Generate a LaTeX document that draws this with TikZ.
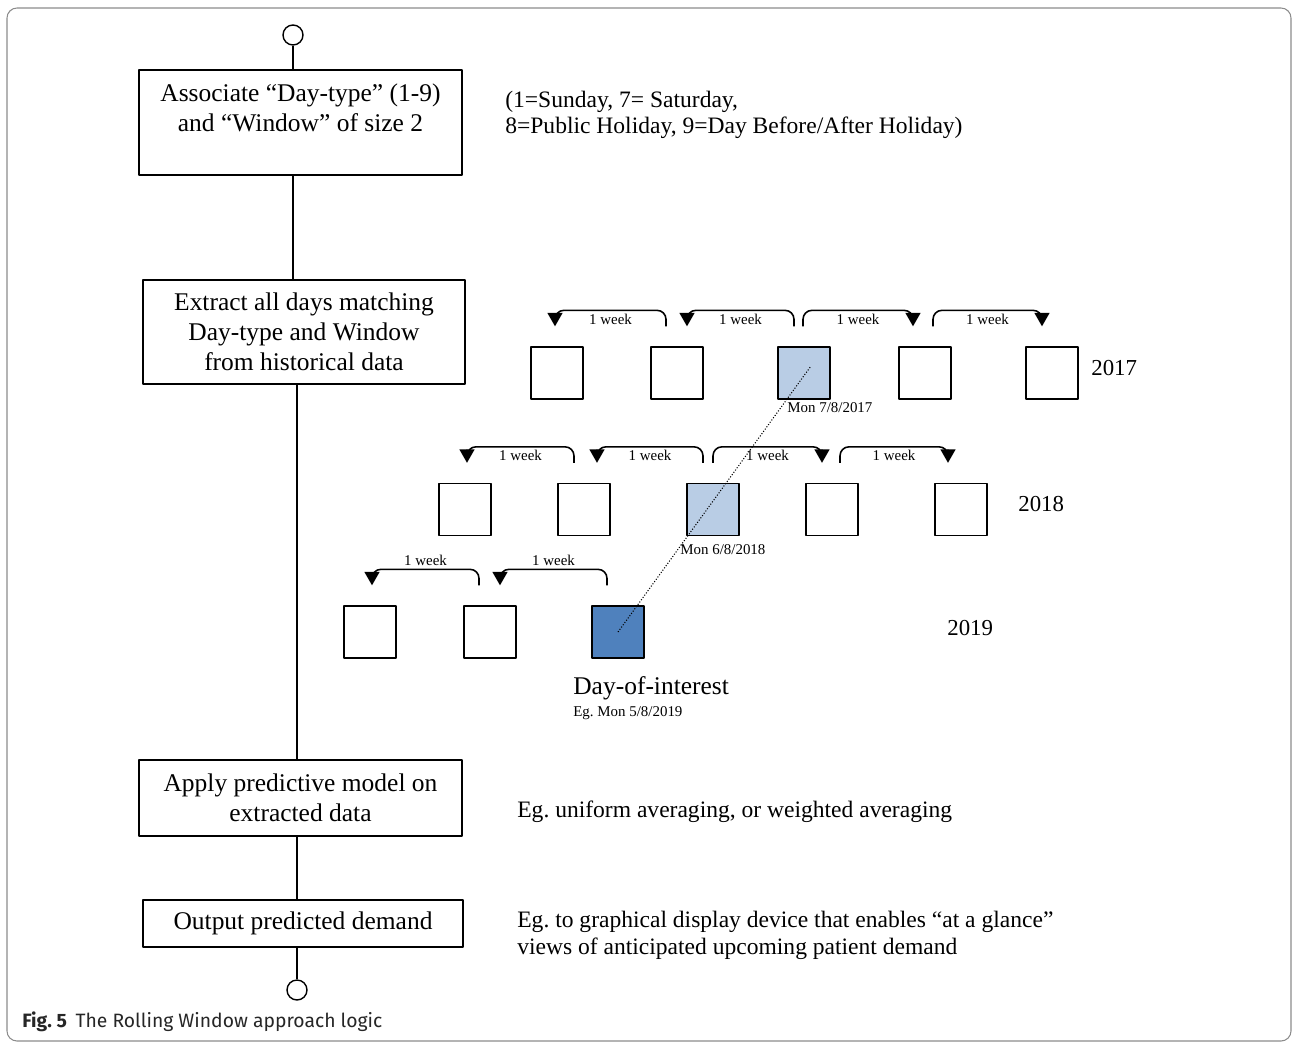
\documentclass[tikz,border=0pt]{standalone}
\usepackage{fontspec}
\setmainfont{Liberation Serif}
\newfontfamily\capfont{Fira Sans}
\usepackage{tikz}
\usetikzlibrary{positioning,calc,arrows.meta}
\frenchspacing

\definecolor{lightday}{HTML}{B9CDE5}
\definecolor{darkday}{HTML}{4F81BD}
\definecolor{framegray}{HTML}{8C8C8C}

\tikzset{
    stepbox/.style={draw, line width=0.8pt, align=center, inner sep=2pt,
        font=\fontsize{14.5}{17}\selectfont},
    term/.style={draw, circle, line width=0.8pt, minimum size=0.4cm, inner sep=0pt},
    daybox/.style={draw, line width=0.8pt, minimum size=1.04cm, inner sep=0pt},
    wk/.style={line width=0.9pt, rounded corners=0.18cm,
        -{Triangle[width=0.3cm,length=0.27cm]}},
    wklabel/.style={font=\fontsize{8.5}{10}\selectfont, inner sep=1.5pt},
    note/.style={anchor=west, align=left, inner sep=0pt},
    year/.style={anchor=west, inner sep=0pt, font=\fontsize{13}{15}\selectfont}
}

\begin{document}
\begin{tikzpicture}[x=0.02cm, y=-0.02cm, line join=round]
    \useasboundingbox (0,0) rectangle (1292,1042);
    \draw[framegray, line width=0.6pt, rounded corners=0.2cm] (7,8) rectangle (1291,1041);

    % Flow chart on the left
    \node [term] (start) at (293,35) {};
    \node [stepbox, minimum width=6.46cm, minimum height=2.1cm] (b1) at (300.5,122.5)
        {Associate “Day-type” (1-9)\\ and “Window” of size 2\\ \mbox{}};
    \node [stepbox, minimum width=6.44cm, minimum height=2.08cm] (b2) at (304,332)
        {Extract all days matching\\ Day-type and Window\\ from historical data};
    \node [stepbox, minimum width=6.46cm, minimum height=1.52cm] (b3) at (300.5,798)
        {Apply predictive model on\\ extracted data};
    \node [stepbox, minimum width=6.4cm, minimum height=0.94cm] (b4) at (303,923.5)
        {Output predicted demand};
    \node [term] (stop) at (297,990) {};

    \draw [line width=0.8pt] (start.south) -- (start.south |- b1.north);
    \draw [line width=0.8pt] (b1.south -| start) -- (b2.north -| start);
    \draw [line width=0.8pt] (b2.south -| stop) -- (b3.north -| stop);
    \draw [line width=0.8pt] (b3.south -| stop) -- (b4.north -| stop);
    \draw [line width=0.8pt] (b4.south -| stop) -- (stop.north);

    % Notes on the right
    \node [note, font=\fontsize{13.4}{14.7}\selectfont] (n1) at (505,115)
        {(1=Sunday, 7= Saturday,\\ 8=Public Holiday, 9=Day Before/After Holiday)};
    \node [note, font=\fontsize{13.4}{16}\selectfont] (n3) at (517,812)
        {Eg. uniform averaging, or weighted averaging};
    \node [note, font=\fontsize{13.4}{15.3}\selectfont] (n4) at (517,935.5)
        {Eg. to graphical display device that enables “at a glance”\\ views of anticipated upcoming patient demand};

    % Days of each year
    \foreach \n/\x/\c in {1/557/white, 2/677/white, 3/804/lightday, 4/925/white, 5/1052/white}
        \node [daybox, fill=\c] (a\n) at (\x,373) {};
    \foreach \n/\x/\c in {1/465/white, 2/584/white, 3/713/lightday, 4/832/white, 5/961/white}
        \node [daybox, fill=\c] (b\n) at (\x,509.5) {};
    \foreach \n/\x/\c in {1/370/white, 2/490/white, 3/618/darkday}
        \node [daybox, fill=\c] (c\n) at (\x,632) {};

    \node [year] (y17) at (1091,368) {2017};
    \node [year] (y18) at (1018,504) {2018};
    \node [year] (y19) at (947,628) {2019};

    % 1 week steps
    \foreach \s/\ds/\t/\dt/\p in {a2/-11/a1/-2/north, a3/-10/a2/10/north, a3/-1/a4/-12/north, a4/8/a5/-10/north,
                                  b2/-10/b1/2/north, b3/-10/b2/13/north, b3/0/b4/-10/north, b4/8/b5/-13/north,
                                  c2/-11/c1/2/south, c3/-11/c2/10/south}
        \draw [wk] ([shift={(\ds,-20)}]\s.north) |- node[wklabel, pos=0.75, anchor=\p] {1 week}
            ([shift={(\dt,-36)}]\t.north) -- ([shift={(\dt,-20)}]\t.north);

    % Same day in earlier years
    \draw [densely dotted, line width=0.6pt] (c3.center) -- ([shift={(7,-7)}]a3.center);
    \node [wklabel, anchor=west, inner sep=0pt] (m17) at ([shift={(-17,8)}]a3.south) {Mon 7/8/2017};
    \node [wklabel, anchor=west, inner sep=0pt] (m18) at ([shift={(-33,13)}]b3.south) {Mon 6/8/2018};
    \node [note, font=\fontsize{14.5}{17}\selectfont] (doi) at (573,688) {Day-of-interest};
    \node [wklabel, anchor=west, inner sep=0pt] (eg) at ([shift={(0,25)}]doi.west) {Eg. Mon 5/8/2019};

    % Caption
    \node [anchor=west, inner sep=0pt, text=black!85, font=\capfont\fontsize{11}{13}\selectfont] (cap) at (22,1022)
        {\textbf{Fig. 5}\hspace{0.45em}The Rolling Window approach logic};
\end{tikzpicture}
\end{document}
